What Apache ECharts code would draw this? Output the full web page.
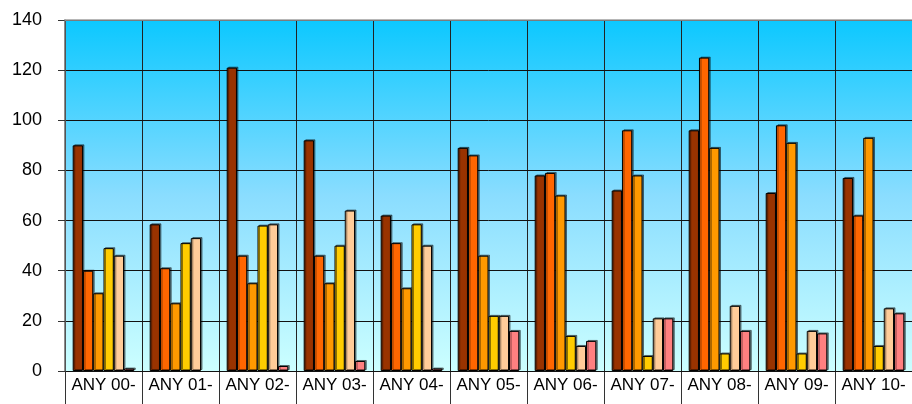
<!DOCTYPE html>
<html>
<head>
<meta charset="utf-8">
<script src="https://cdn.jsdelivr.net/npm/echarts@6/dist/echarts.min.js"></script>
<style>
html,body{margin:0;padding:0;background:#fff;}
#c{width:912px;height:404px;}
</style>
</head>
<body>
<div id="c"></div>
<script>
var categories = ['ANY 00-','ANY 01-','ANY 02-','ANY 03-','ANY 04-','ANY 05-','ANY 06-','ANY 07-','ANY 08-','ANY 09-','ANY 10-'];
var s1 = [90, 58.5, 121, 92, 62, 89, 78, 72, 96, 71, 77];
var s2 = [40, 41, 46, 46, 51, 86, 79, 96, 125, 98, 62];
var s3 = [31, 27, 35, 35, 33, 46, 70, 78, 89, 91, 93];
var s4 = [49, 51, 58, 50, 58.5, 22, 14, 6, 7, 7, 10];
var s5 = [46, 53, 58.5, 64, 50, 22, 10, 21, 26, 16, 25];
var s6 = [1, null, 2, 4, 1, 16, 12, 21, 16, 15, 23];
var yTicks = {min: 0, max: 140, interval: 20};

var seriesData = [s1, s2, s3, s4, s5, s6];
var colors = ['#993300', '#FF6600', '#FF9900', '#FFCC00', '#FFCC99', '#FF8080'];

var chart = echarts.init(document.getElementById('c'), null, {renderer: 'canvas'});
var font = '"Liberation Sans", Arial, sans-serif';

chart.setOption({
  animation: false,
  textStyle: {fontFamily: font},
  grid: {
    left: 65, right: -2, top: 20, bottom: 33,
    show: true, borderWidth: 0,
    backgroundColor: {
      type: 'linear', x: 0, y: 0, x2: 0, y2: 1,
      colorStops: [
        {offset: 0, color: '#0CC8FF'},
        {offset: 0.5, color: '#8ADDFF'},
        {offset: 1, color: '#CCFFFF'}
      ]
    }
  },
  xAxis: [{
    type: 'category',
    data: categories,
    position: 'bottom',
    boundaryGap: true,
    axisLine: {show: true, lineStyle: {color: '#000', width: 1}},
    axisTick: {show: true, length: 33, lineStyle: {color: '#333', width: 1}},
    axisLabel: {color: '#000', fontSize: 17, margin: 6, fontFamily: font, interval: 0},
    splitLine: {show: true, lineStyle: {color: '#222', width: 1}},
    z: 2
  }, {
    type: 'category',
    data: categories,
    position: 'top',
    axisLine: {show: true, lineStyle: {color: '#a0a0a0', width: 1.5}},
    axisTick: {show: false},
    axisLabel: {show: false},
    splitLine: {show: false},
    z: 5
  }],
  yAxis: {
    type: 'value',
    min: yTicks.min, max: yTicks.max, interval: yTicks.interval,
    axisLine: {show: true, lineStyle: {color: '#666', width: 1.5}},
    axisTick: {show: true, length: 7, lineStyle: {color: '#333'}},
    axisLabel: {color: '#000', fontSize: 18, margin: 23, fontFamily: font},
    splitLine: {show: true, lineStyle: {color: '#111', width: 1}},
    z: 3
  },
  series: seriesData.map(function (d, i) {
    return {
      type: 'bar',
      data: d,
      xAxisIndex: 0,
      barGap: '0%',
      barCategoryGap: '20%',
      itemStyle: {
        color: colors[i],
        borderColor: '#000',
        borderWidth: 1,
        shadowColor: 'rgba(0,0,0,0.45)',
        shadowOffsetX: 1.5,
        shadowOffsetY: -1,
        shadowBlur: 0
      },
      z: 4
    };
  })
});
</script>
</body>
</html>
